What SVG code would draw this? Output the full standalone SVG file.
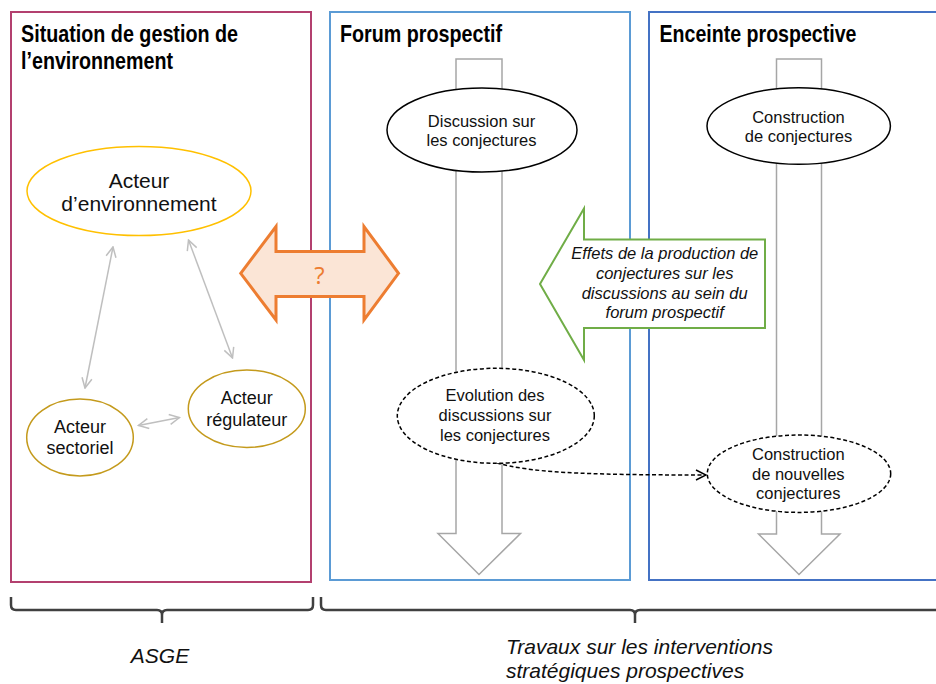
<svg xmlns="http://www.w3.org/2000/svg" width="936" height="684" viewBox="0 0 936 684">
<style>
.title{font-family:"Liberation Sans",Arial,sans-serif;font-weight:bold;font-size:23.5px;fill:#000}
.t{font-family:"Liberation Sans",Arial,sans-serif;fill:#111;text-anchor:middle}
.s16{font-size:16.5px}
.s18{font-size:18px}
.s21{font-size:21px}
.it{font-style:italic}
.gray{fill:#fff;stroke:#a6a6a6;stroke-width:1.5}
.ell{fill:#fff;stroke:#000;stroke-width:1.5}
.dash{stroke-dasharray:4 2.5}
.link{fill:none;stroke:#bfbfbf;stroke-width:1.5;marker-start:url(#ga);marker-end:url(#ga)}
.brace{fill:none;stroke:#404040;stroke-width:2.5}
</style>
<defs>
<marker id="ga" viewBox="0 0 12 12" refX="11" refY="6" markerWidth="12" markerHeight="12" markerUnits="userSpaceOnUse" orient="auto-start-reverse">
<path d="M1,1 L11,6 L1,11" fill="none" stroke="#bfbfbf" stroke-width="1.5"/>
</marker>
<marker id="da" viewBox="0 0 12 12" refX="11" refY="6" markerWidth="12" markerHeight="12" markerUnits="userSpaceOnUse" orient="auto">
<path d="M1,1 L11,6 L1,11" fill="none" stroke="#000" stroke-width="1.5"/>
</marker>
</defs>

<g id="box-situation">
<rect x="11" y="12" width="300" height="570" fill="none" stroke="#b3406f" stroke-width="2"/>
<text class="title" x="21" y="42" textLength="217" lengthAdjust="spacingAndGlyphs">Situation de gestion de</text>
<text class="title" x="21" y="69" textLength="152" lengthAdjust="spacingAndGlyphs">l’environnement</text>
</g>
<g id="box-forum">
<rect x="330" y="12" width="300" height="568" fill="none" stroke="#5b9bd5" stroke-width="2"/>
<text class="title" x="340" y="42" textLength="162" lengthAdjust="spacingAndGlyphs">Forum prospectif</text>
</g>
<g id="box-enceinte">
<rect x="649" y="12" width="300" height="568" fill="none" stroke="#4472c4" stroke-width="2"/>
<text class="title" x="659.5" y="42" textLength="197" lengthAdjust="spacingAndGlyphs">Enceinte prospective</text>
</g>

<g id="arrow-forum">
<path class="gray" d="M456,59 H502 V533.5 H520.5 L479,574.5 L438,533.5 H456 Z"/>
</g>
<g id="arrow-enceinte">
<path class="gray" d="M776.5,59 H821.5 V534 H840 L799,574.5 L758.5,534 H776.5 Z"/>
</g>

<g id="connectors">
<path class="link" d="M113,247 L85,388"/>
<path class="link" d="M188.5,240 L232.5,358"/>
<path class="link" d="M138.5,425.5 L179.5,417.5"/>
<path d="M497,463 C530,472 575,475 706,475" fill="none" stroke="#000" stroke-width="1.5" class="dash" marker-end="url(#da)"/>
</g>

<g id="node-acteur-env">
<ellipse cx="139" cy="191" rx="112" ry="44.5" fill="#fff" stroke="#ffc000" stroke-width="1.5"/>
<text class="t s21" x="139" y="187.5">Acteur</text>
<text class="t s21" x="139" y="211">d’environnement</text>
</g>
<g id="node-acteur-sectoriel">
<ellipse cx="80" cy="437.5" rx="53.3" ry="38.5" fill="#fff" stroke="#c49a1c" stroke-width="1.5"/>
<text class="t s18" x="80" y="433.3">Acteur</text>
<text class="t s18" x="80" y="454">sectoriel</text>
</g>
<g id="node-acteur-regulateur">
<ellipse cx="246.8" cy="408.7" rx="58.5" ry="38.7" fill="#fff" stroke="#c49a1c" stroke-width="1.5"/>
<text class="t s18" x="246.8" y="404.3">Acteur</text>
<text class="t s18" x="246.8" y="426">régulateur</text>
</g>

<g id="node-double-arrow">
<path d="M240.7,273.3 L276,226.5 V251.5 H364 V226.5 L398.5,273.3 L364,320 V296.5 H276 V320 Z" fill="#fbe5d6" stroke="#ed7d31" stroke-width="3" stroke-linejoin="miter"/>
<text x="319.5" y="283.5" font-family="'Open Sans','Liberation Sans',sans-serif" font-size="24" fill="#ed7d31" text-anchor="middle">?</text>
</g>

<g id="node-discussion">
<ellipse class="ell" cx="482" cy="130" rx="95" ry="42"/>
<text class="t s16" x="481.5" y="126.7">Discussion sur</text>
<text class="t s16" x="481.5" y="145.7">les conjectures</text>
</g>
<g id="node-construction">
<ellipse class="ell" cx="798.7" cy="126" rx="91.7" ry="38.3"/>
<text class="t s16" x="798.5" y="122.7">Construction</text>
<text class="t s16" x="798.5" y="141.7">de conjectures</text>
</g>

<g id="node-effets">
<path d="M540,284 L584,208.5 V239.5 H765 V328 H584 V360 Z" fill="#fff" stroke="#70ad47" stroke-width="2"/>
<text class="t s16 it" x="664.7" y="259.3">Effets de la production de</text>
<text class="t s16 it" x="664.7" y="279">conjectures sur les</text>
<text class="t s16 it" x="664.7" y="298.7">discussions au sein du</text>
<text class="t s16 it" x="664.7" y="318">forum prospectif</text>
</g>

<g id="node-evolution">
<ellipse class="ell dash" cx="495.8" cy="415.8" rx="98.5" ry="47.5"/>
<text class="t s16" x="495" y="400.7">Evolution des</text>
<text class="t s16" x="495" y="420.7">discussions sur</text>
<text class="t s16" x="495" y="440.7">les conjectures</text>
</g>
<g id="node-nouvelles">
<ellipse class="ell dash" cx="799" cy="473.7" rx="91.7" ry="38.7"/>
<text class="t s16" x="798.3" y="460">Construction</text>
<text class="t s16" x="798.3" y="480">de nouvelles</text>
<text class="t s16" x="798.3" y="499.3">conjectures</text>
</g>

<g id="brace-asge">
<path class="brace" d="M11,597 V605 Q11,610 16,610 H157 Q162,610 162,615 V623 M162,615 Q162,610 167,610 H308 Q313,610 313,605 V597"/>
<text class="t s21 it" x="160" y="662.7">ASGE</text>
</g>
<g id="brace-travaux">
<path class="brace" d="M321,597 V605 Q321,610 326,610 H630 Q635,610 635,615 V623 M635,615 Q635,610 640,610 H940"/>
<text class="t s21 it" x="506" y="654.3" style="text-anchor:start">Travaux sur les interventions</text>
<text class="t s21 it" x="506" y="678.3" style="text-anchor:start">stratégiques prospectives</text>
</g>
</svg>
